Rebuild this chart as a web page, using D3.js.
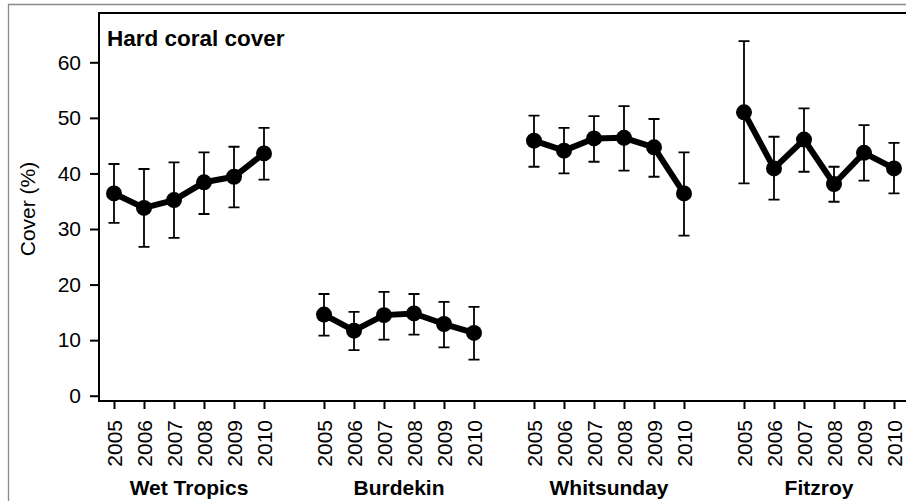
<!DOCTYPE html>
<html>
<head>
<meta charset="utf-8">
<script src="https://cdn.jsdelivr.net/npm/d3@7"></script>
<style>
  html, body { margin: 0; padding: 0; background: #fff; }
  svg { display: block; font-family: "Liberation Sans", Arial, Helvetica, sans-serif; }
</style>
</head>
<body>
<svg id="chart" width="906" height="501"></svg>
<script>
// Survey years and regions
const years = ["2005", "2006", "2007", "2008", "2009", "2010"];
const regions = ["Wet Tropics", "Burdekin", "Whitsunday", "Fitzroy"];

// Mean hard coral cover (%) per region, one value per year
const coverWetTropics = [36.4, 33.8, 35.2, 38.4, 39.4, 43.6];
const coverBurdekin   = [14.6, 11.7, 14.5, 14.8, 12.9, 11.3];
const coverWhitsunday = [45.9, 44.1, 46.3, 46.4, 44.7, 36.4];
const coverFitzroy    = [51.0, 40.9, 46.1, 38.1, 43.7, 40.9];

// Lower and upper interval limits
const lowerWetTropics = [31.1, 26.8, 28.4, 32.7, 33.9, 38.9];
const upperWetTropics = [41.7, 40.8, 42.0, 43.8, 44.8, 48.2];
const lowerBurdekin   = [10.8, 8.2, 10.1, 11.0, 8.7, 6.5];
const upperBurdekin   = [18.3, 15.1, 18.7, 18.3, 16.9, 16.0];
const lowerWhitsunday = [41.2, 40.0, 42.1, 40.5, 39.4, 28.8];
const upperWhitsunday = [50.4, 48.2, 50.3, 52.1, 49.8, 43.8];
const lowerFitzroy    = [38.2, 35.3, 40.3, 34.9, 38.7, 36.4];
const upperFitzroy    = [63.8, 46.6, 51.7, 41.2, 48.7, 45.5];

const yTicks = [0, 10, 20, 30, 40, 50, 60];
const chartTitle = "Hard coral cover";
const yTitle = "Cover (%)";

const means = [coverWetTropics, coverBurdekin, coverWhitsunday, coverFitzroy];
const lowers = [lowerWetTropics, lowerBurdekin, lowerWhitsunday, lowerFitzroy];
const uppers = [upperWetTropics, upperBurdekin, upperWhitsunday, upperFitzroy];

// Each region occupies six slots followed by one empty slot
const groups = regions.map((name, g) => ({
  name,
  points: years.map((yr, j) => ({
    slot: g * (years.length + 1) + j,
    year: yr,
    mean: means[g][j],
    lo: lowers[g][j],
    hi: uppers[g][j]
  }))
}));
const allPoints = groups.flatMap(g => g.points);

const svg = d3.select("#chart");
const plotTop = 13, plotBottom = 401, plotLeft = 99, plotRight = 909;
const tickFont = 21;

const x = d3.scaleLinear().domain([-0.5, 26.5]).range([plotLeft, plotRight]);
const y = d3.scaleLinear().domain([0, 60]).range([395.7, 62.3]);

// Outer figure frame
svg.append("path")
  .attr("d", "M8.5,501 L8.5,4.5 L906,4.5")
  .attr("fill", "none")
  .attr("stroke", "#8a8a8a")
  .attr("stroke-width", 1.3);

// Plot box (left, top and bottom edges)
svg.append("path")
  .attr("d", `M${plotRight},${plotTop} L${plotLeft},${plotTop} L${plotLeft},${plotBottom} L${plotRight},${plotBottom}`)
  .attr("fill", "none")
  .attr("stroke", "#000")
  .attr("stroke-width", 2);

// Y axis
const yAxis = svg.append("g")
  .attr("transform", `translate(${plotLeft},0)`)
  .call(d3.axisLeft(y).tickValues(yTicks).tickSize(9).tickPadding(9).tickFormat(d3.format("d")));
yAxis.select(".domain").remove();
yAxis.selectAll(".tick line").attr("stroke", "#000").attr("stroke-width", 2);
yAxis.selectAll(".tick text")
  .attr("fill", "#000")
  .attr("font-size", tickFont)
  .attr("font-family", "Liberation Sans, Arial, sans-serif");

// X axis with rotated year labels
const xAxis = svg.append("g")
  .attr("transform", `translate(0,${plotBottom})`)
  .call(d3.axisBottom(x)
    .tickValues(allPoints.map(p => p.slot))
    .tickSize(8)
    .tickFormat(s => allPoints.find(p => p.slot === s).year));
xAxis.select(".domain").remove();
xAxis.selectAll(".tick line").attr("stroke", "#000").attr("stroke-width", 2);
xAxis.selectAll(".tick text")
  .attr("fill", "#000")
  .attr("font-size", tickFont)
  .attr("font-family", "Liberation Sans, Arial, sans-serif")
  .attr("transform", "rotate(-90)")
  .attr("text-anchor", "end")
  .attr("x", -19)
  .attr("y", 0)
  .attr("dy", "0.35em");

// Region names under each group
svg.append("g").selectAll("text")
  .data(groups)
  .join("text")
  .attr("x", d => x((d.points[0].slot + d.points[d.points.length - 1].slot) / 2))
  .attr("y", 495)
  .attr("text-anchor", "middle")
  .attr("font-size", 21)
  .attr("font-weight", "bold")
  .attr("fill", "#000")
  .text(d => d.name);

// Y axis title
svg.append("text")
  .attr("transform", `translate(35,209) rotate(-90)`)
  .attr("text-anchor", "middle")
  .attr("font-size", 21)
  .attr("fill", "#000")
  .text(yTitle);

// Panel title
svg.append("text")
  .attr("x", 107)
  .attr("y", 46)
  .attr("font-size", 22.5)
  .attr("font-weight", "bold")
  .attr("fill", "#000")
  .text(chartTitle);

const marks = svg.append("g");
const capHalf = 5.5;

// Interval bars with caps
const bars = marks.append("g")
  .attr("stroke", "#000")
  .attr("stroke-width", 1.8)
  .attr("fill", "none");
bars.selectAll("path")
  .data(allPoints)
  .join("path")
  .attr("d", d => {
    const cx = x(d.slot), y0 = y(d.lo), y1 = y(d.hi);
    return `M${cx},${y0} L${cx},${y1} M${cx - capHalf},${y1} L${cx + capHalf},${y1} M${cx - capHalf},${y0} L${cx + capHalf},${y0}`;
  });

// Connecting lines, one per region
const line = d3.line().x(d => x(d.slot)).y(d => y(d.mean));
marks.append("g").selectAll("path")
  .data(groups)
  .join("path")
  .attr("d", d => line(d.points))
  .attr("fill", "none")
  .attr("stroke", "#000")
  .attr("stroke-width", 6)
  .attr("stroke-linejoin", "round");

// Mean points
marks.append("g").selectAll("circle")
  .data(allPoints)
  .join("circle")
  .attr("cx", d => x(d.slot))
  .attr("cy", d => y(d.mean))
  .attr("r", 8)
  .attr("fill", "#000");
</script>
</body>
</html>
